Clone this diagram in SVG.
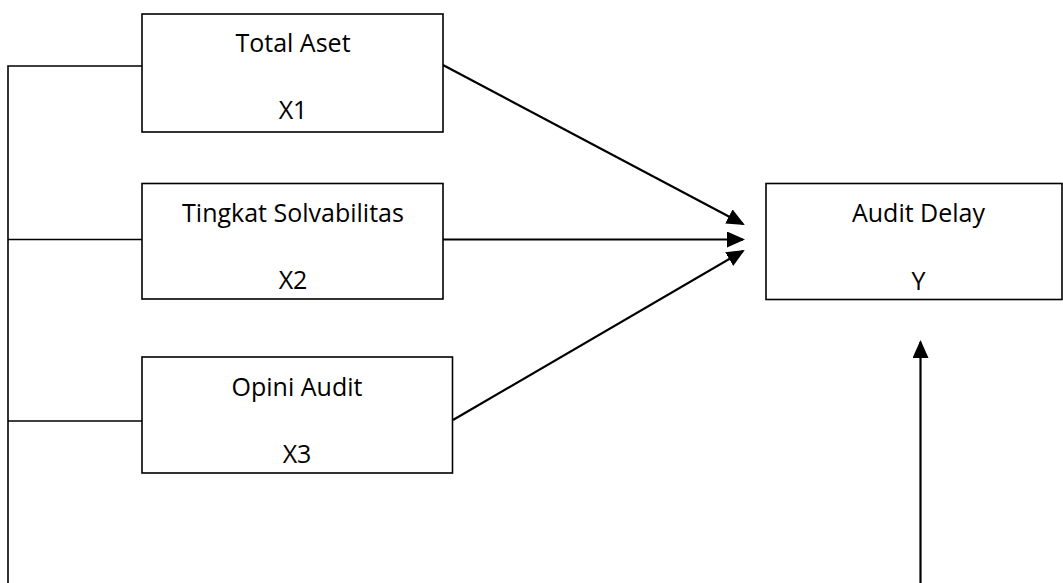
<svg xmlns="http://www.w3.org/2000/svg" width="1063" height="583" viewBox="0 0 1063 583">
<style>
.box{fill:#fff;stroke:#000;stroke-width:1.6}
.lbl{font-family:"Open Sans","Liberation Sans",sans-serif;font-size:25px;fill:#000;text-anchor:middle}
.ln{fill:none;stroke:#000;stroke-width:1.6}
.ar{fill:none;stroke:#000;stroke-width:2.2}
</style>
<defs>
<marker id="ah" markerUnits="userSpaceOnUse" markerWidth="18" markerHeight="16" viewBox="0 0 18 16" refX="16" refY="8" orient="auto">
<path d="M0,0 L18,8 L0,16 Z" fill="#000"/>
</marker>
</defs>
<g id="connectors">
<polyline class="ln" points="142,66 8,66 8,583"/>
<line class="ln" x1="8" y1="239.5" x2="142" y2="239.5"/>
<line class="ln" x1="8" y1="421" x2="142" y2="421"/>
<line class="ar" x1="443" y1="65" x2="743" y2="224" marker-end="url(#ah)"/>
<line class="ar" x1="443" y1="239.5" x2="743" y2="239.5" marker-end="url(#ah)"/>
<line class="ar" x1="453" y1="420" x2="743" y2="251" marker-end="url(#ah)"/>
<line class="ar" x1="920.5" y1="583" x2="920.5" y2="342" marker-end="url(#ah)"/>
</g>
<g id="x1">
<rect class="box" x="142" y="14" width="301" height="118"/>
<text class="lbl" x="293" y="52">Total Aset</text>
<text class="lbl" x="293" y="119">X1</text>
</g>
<g id="x2">
<rect class="box" x="142" y="183.5" width="301" height="115.5"/>
<text class="lbl" x="293" y="221.5">Tingkat Solvabilitas</text>
<text class="lbl" x="293" y="289">X2</text>
</g>
<g id="x3">
<rect class="box" x="142" y="357" width="310.5" height="116"/>
<text class="lbl" x="297" y="396">Opini Audit</text>
<text class="lbl" x="297" y="463">X3</text>
</g>
<g id="y">
<rect class="box" x="766" y="183.5" width="296" height="116"/>
<text class="lbl" x="918.5" y="221.5">Audit Delay</text>
<text class="lbl" x="918.5" y="290">Y</text>
</g>
</svg>
